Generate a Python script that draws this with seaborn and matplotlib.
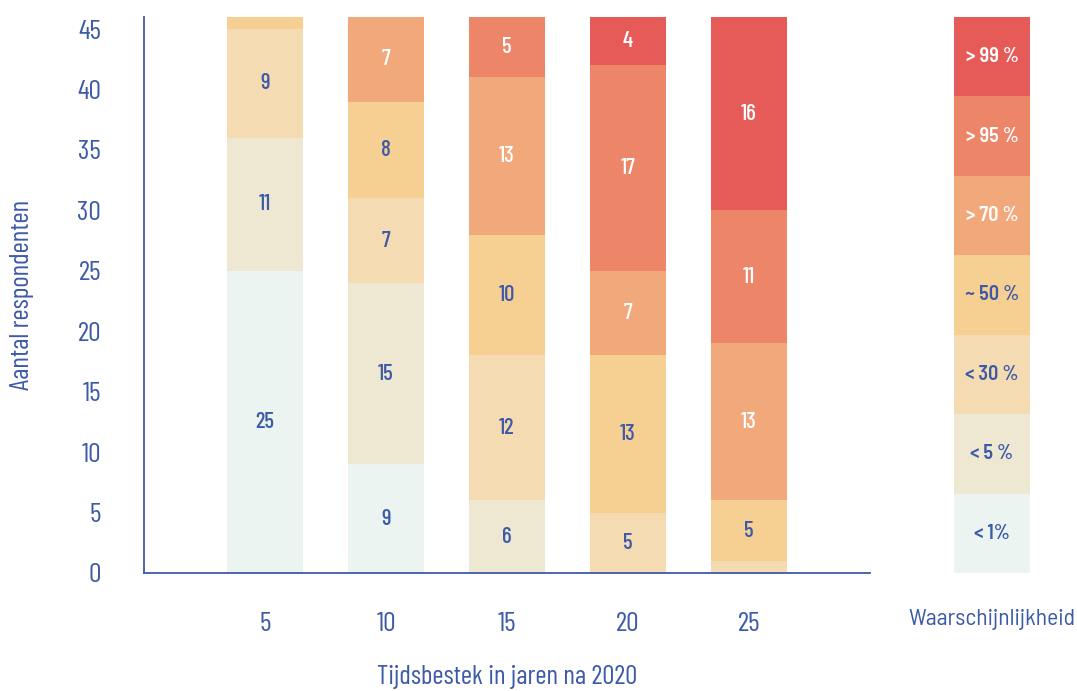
# %%
import numpy as np
import pandas as pd
import seaborn as sns
import matplotlib.pyplot as plt

# %%
years = [5, 10, 15, 20, 25]
categories = ["< 1%", "< 5 %", "< 30 %", "~ 50 %", "> 70 %", "> 95 %", "> 99 %"]
counts = {
    "< 1%": [25, 9, 0, 0, 0],
    "< 5 %": [11, 15, 6, 0, 0],
    "< 30 %": [9, 7, 12, 5, 1],
    "~ 50 %": [1, 8, 10, 13, 5],
    "> 70 %": [0, 7, 13, 7, 13],
    "> 95 %": [0, 0, 5, 17, 11],
    "> 99 %": [0, 0, 0, 4, 16],
}
colors = ["#ebf4f0", "#eee7d1", "#f4dbb1", "#f6cf92", "#f1a97c", "#ed8569", "#e65a57"]
label_colors = ["#3d5aa8"] * 4 + ["white"] * 3

blue = "#3d5aa8"
font = ["Barlow Condensed", "Roboto Condensed", "DejaVu Sans"]
font_legend = ["Barlow Semi Condensed", "Barlow", "DejaVu Sans"]

# %%
sns.set_style("white")
plt.rcParams["font.family"] = font
plt.rcParams["text.color"] = blue
plt.rcParams["axes.labelcolor"] = blue

fig = plt.figure(figsize=(10.77, 6.91), dpi=100)
ax = fig.add_axes([0.1337, 0.1708, 0.6741, 0.8046])

bottom = np.zeros(len(years))
for cat, col, lcol in zip(categories, colors, label_colors):
    vals = np.array(counts[cat])
    df = pd.DataFrame({"year": years, "n": vals})
    sns.barplot(data=df, x="year", y="n", native_scale=True, width=0.628,
                color=col, saturation=1, bottom=bottom, ax=ax, linewidth=0)
    labels = [str(v) if v >= 3 else "" for v in vals]
    ax.bar_label(ax.containers[-1], labels=labels, label_type="center",
                 color=lcol, fontsize=16.5, fontweight="medium")
    bottom = bottom + vals

ax.set_xlim(0, 30)
ax.set_ylim(0, 46)
ax.set_xticks(years)
ax.set_yticks(range(0, 46, 5))
sns.despine(ax=ax)
for s in ["left", "bottom"]:
    ax.spines[s].set_color(blue)
    ax.spines[s].set_linewidth(1.3)
ax.tick_params(axis="both", colors=blue, labelsize=20, length=11, width=1.3)
ax.tick_params(axis="x", pad=17)
ax.tick_params(axis="y", pad=20)
ax.set_xlabel("Tijdsbestek in jaren na 2020", fontsize=19.5)
ax.set_ylabel("Aantal respondenten", fontsize=19.5)
ax.xaxis.set_label_coords(0.5, -0.165)
ax.yaxis.set_label_coords(-0.152, 0.5)

# %% legend column
lax = fig.add_axes([0.8858, 0.1708, 0.0706, 0.8046])
lax.bar([0] * len(categories), [1] * len(categories), bottom=np.arange(len(categories)),
        width=1, color=colors, linewidth=0)
for i, (cat, lcol) in enumerate(zip(categories, label_colors)):
    lax.text(0, i + 0.5, cat, ha="center", va="center", color=lcol,
             fontsize=14.5, fontweight="semibold", family=font_legend)
lax.set_xlim(-0.5, 0.5)
lax.set_ylim(0, len(categories))
lax.axis("off")
lax.text(0.5, -0.084, "Waarschijnlijkheid", transform=lax.transAxes, ha="center",
         va="center", fontsize=17, color=blue, family=font_legend)

fig.savefig("out.png", dpi=100)
